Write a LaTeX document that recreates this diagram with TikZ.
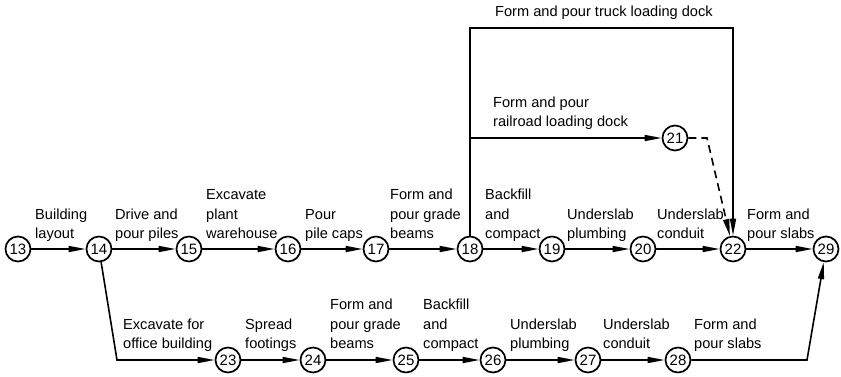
\documentclass[tikz,border=0pt]{standalone}
\usepackage{fontspec}
\setmainfont{Liberation Sans}
\usetikzlibrary{arrows.meta}
\begin{document}
\begin{tikzpicture}[x=1pt,y=-1pt,
  ev/.style={draw,circle,line width=1.7pt,minimum size=25pt,inner sep=0pt,font=\fontsize{15}{17}\selectfont},
  arr/.style={line width=1.6pt,-{Triangle[length=17pt,width=6pt]}},
  dsh/.style={arr,dash pattern=on 8pt off 5pt},
  lbl/.style={anchor=south west,inner sep=0pt,align=left,font=\fontsize{14.6}{19.5}\selectfont,execute at end node={\vphantom{p}}}]
\useasboundingbox (0,0) rectangle (841,376);
% events
\node[ev] (n13) at (18,249) {13};
\node[ev] (n14) at (99,249) {14};
\node[ev] (n15) at (189,249) {15};
\node[ev] (n16) at (288,249) {16};
\node[ev] (n17) at (376,249) {17};
\node[ev] (n18) at (470,249) {18};
\node[ev] (n19) at (552,249) {19};
\node[ev] (n20) at (643,249) {20};
\node[ev] (n21) at (675,138) {21};
\node[ev] (n22) at (733,249) {22};
\node[ev] (n29) at (826,249) {29};
\node[ev] (n23) at (228,360) {23};
\node[ev] (n24) at (313,360) {24};
\node[ev] (n25) at (406,360) {25};
\node[ev] (n26) at (493,360) {26};
\node[ev] (n27) at (588,360) {27};
\node[ev] (n28) at (678,360) {28};
% bend points
\coordinate (tl) at (470,28);
\coordinate (tr) at (733,28);
\coordinate (rl) at (470,138);
\coordinate (dk) at (707,138);
\coordinate (b1) at (117,360);
\coordinate (b2) at (807,360);
% main row
\draw[arr] (n13) -- (n14);
\draw[arr] (n14) -- (n15);
\draw[arr] (n15) -- (n16);
\draw[arr] (n16) -- (n17);
\draw[arr] (n17) -- (n18);
\draw[arr] (n18) -- (n19);
\draw[arr] (n19) -- (n20);
\draw[arr] (n20) -- (n22);
\draw[arr] (n22) -- (n29);
% top branches
\draw[arr] (n18) -- (tl) -- (tr) -- (n22);
\draw[arr] (rl) -- (n21);
\draw[dsh] (n21) -- (dk) -- (n22);
% bottom row
\draw[arr] (n14) -- (b1) -- (n23);
\draw[arr] (n23) -- (n24);
\draw[arr] (n24) -- (n25);
\draw[arr] (n25) -- (n26);
\draw[arr] (n26) -- (n27);
\draw[arr] (n27) -- (n28);
\draw[arr] (n28) -- (b2) -- (n29);
% labels main row
\node[lbl] (l1) at (35,242) {Building\\layout};
\node[lbl] (l2) at (115,242) {Drive and\\pour piles};
\node[lbl] (l3) at (206,242) {Excavate\\plant\\warehouse};
\node[lbl] (l4) at (305,242) {Pour\\pile caps};
\node[lbl] (l5) at (390,242) {Form and\\pour grade\\beams};
\node[lbl] (l6) at (485,242) {Backfill\\and\\compact};
\node[lbl] (l7) at (567,242) {Underslab\\plumbing};
\node[lbl] (l8) at (657,242) {Underslab\\conduit};
\node[lbl] (l9) at (747,242) {Form and\\pour slabs};
% labels top
\node[lbl] (l10) at (495,20) {Form and pour truck loading dock};
\node[lbl] (l11) at (493,130) {Form and pour\\railroad loading dock};
% labels bottom row
\node[lbl] (l12) at (123,352) {Excavate for\\office building};
\node[lbl] (l13) at (245,352) {Spread\\footings};
\node[lbl] (l14) at (330,352) {Form and\\pour grade\\beams};
\node[lbl] (l15) at (423,352) {Backfill\\and\\compact};
\node[lbl] (l16) at (510,352) {Underslab\\plumbing};
\node[lbl] (l17) at (603,352) {Underslab\\conduit};
\node[lbl] (l18) at (694,352) {Form and\\pour slabs};
\end{tikzpicture}
\end{document}
